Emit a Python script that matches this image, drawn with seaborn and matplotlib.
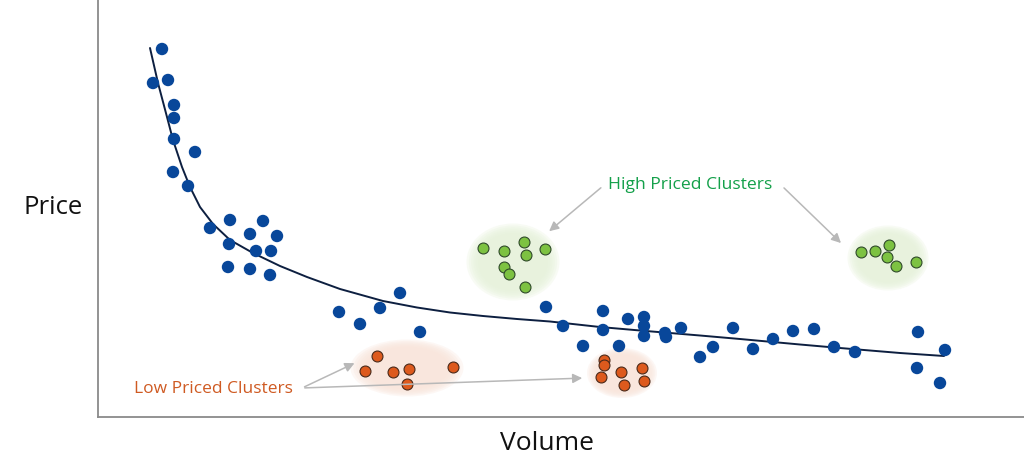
import pandas as pd
import matplotlib
matplotlib.use("Agg")
import matplotlib.pyplot as plt
import seaborn as sns
from matplotlib.patches import Ellipse

# main trend points (volume, price)
blue_vol = [162, 153, 168, 174, 174, 174, 195, 173, 188, 210, 230, 263, 250, 277, 229, 256, 271,
            228, 250, 270, 339, 360, 380, 400, 420, 546, 563, 583, 603, 603, 619, 628, 644, 644,
            644, 665, 666, 681, 700, 713, 733, 753, 773, 793, 814, 834, 855, 918, 917, 945, 940]
blue_price = [368, 334, 337, 312, 299, 278, 265, 245, 231, 189, 197, 196, 183, 181, 173, 166, 166,
              150, 148, 142, 105, 93, 109, 124, 85, 110, 91, 71, 106, 87, 71, 98, 100, 91,
              81, 84, 80, 89, 60, 70, 89, 68, 78, 86, 88, 70, 65, 85, 49, 67, 34]

# high priced clusters
green_vol = [483, 504, 524, 526, 545, 504, 509, 525, 861, 875, 889, 887, 896, 916]
green_price = [169, 166, 175, 162, 168, 150, 143, 130, 165, 166, 172, 160, 151, 155]

# low priced clusters
orange_vol = [377, 365, 393, 409, 453, 407, 604, 604, 601, 621, 642, 624, 644]
orange_price = [61, 46, 45, 48, 50, 33, 57, 52, 40, 45, 49, 32, 36]

# fitted curve
curve_vol = [150, 158, 167, 173, 182, 190, 200, 213, 230, 253, 280, 307, 340, 383, 417, 450,
             483, 517, 550, 600, 640, 700, 740, 800, 840, 900, 944]
curve_price = [369, 334, 300, 277, 250, 230, 210, 193, 177, 164, 151, 140, 128, 116, 109.5, 104.5,
               101, 98, 95.5, 90, 86.5, 81.5, 78, 72.5, 69, 64, 61]

sns.set_theme(style="white")
plt.rcParams['font.family'] = ['Open Sans', 'DejaVu Sans']

fig = plt.figure(figsize=(10.24, 4.55), dpi=100)
ax = fig.add_axes([98 / 1024, 38 / 455, 926 / 1024, 417 / 455])
ax.set_xlim(98, 1024)
ax.set_ylim(0, 417)

# soft cluster halos
halos = [(513, 155, 93, 77, "#e6f2da"), (888, 159, 81, 65, "#e6f2da"),
         (407, 49, 113, 57, "#f9e3da"), (622, 44, 70, 50, "#f9e3da")]
for cx, cy, w, h, col in halos:
    for k in range(6):
        f = 1.0 - k * 0.05
        ax.add_patch(Ellipse((cx, cy), w * f, h * f, facecolor=col, edgecolor="none",
                             alpha=0.28, zorder=1))

sns.lineplot(x=curve_vol, y=curve_price, sort=False, color="#0d1f40", linewidth=1.4,
             ax=ax, zorder=2)

blue = pd.DataFrame({"Volume": blue_vol, "Price": blue_price})
green = pd.DataFrame({"Volume": green_vol, "Price": green_price})
orange = pd.DataFrame({"Volume": orange_vol, "Price": orange_price})

sns.scatterplot(data=blue, x="Volume", y="Price", color="#08479a", s=80, edgecolor="none",
                ax=ax, zorder=3)
sns.scatterplot(data=green, x="Volume", y="Price", color="#7dc242", s=62, edgecolor="#2f4a2a",
                linewidth=0.8, ax=ax, zorder=3)
sns.scatterplot(data=orange, x="Volume", y="Price", color="#dd5a1d", s=62, edgecolor="#4a2a1a",
                linewidth=0.8, ax=ax, zorder=3)

arrow = dict(arrowstyle="-|>", color="#b8b8b8", lw=1.1, mutation_scale=14)
ax.text(690, 232, "High Priced Clusters", color="#14a04a", fontsize=12.6, ha="center", va="center")
ax.annotate("", xy=(547, 184), xytext=(603, 231), arrowprops=arrow)
ax.annotate("", xy=(843, 172), xytext=(782, 231), arrowprops=arrow)

ax.text(213, 28, "Low Priced Clusters", color="#cf5a22", fontsize=12.5, ha="center", va="center")
ax.annotate("", xy=(357, 55), xytext=(302, 29), arrowprops=arrow)
ax.annotate("", xy=(585, 39), xytext=(302, 29), arrowprops=arrow)

ax.set_xlabel("")
ax.set_ylabel("")
ax.set_xticks([])
ax.set_yticks([])
for side in ["top", "right"]:
    ax.spines[side].set_visible(False)
for side in ["left", "bottom"]:
    ax.spines[side].set_color("#8a8a8a")
    ax.spines[side].set_linewidth(1.3)

fig.text(53 / 1024, 1 - 208 / 455, "Price", fontsize=18.5, ha="center", va="center", color="#111111")
fig.text(547 / 1024, 1 - 443 / 455, "Volume", fontsize=19, ha="center", va="center", color="#111111")

fig.savefig("out.png", dpi=100)
